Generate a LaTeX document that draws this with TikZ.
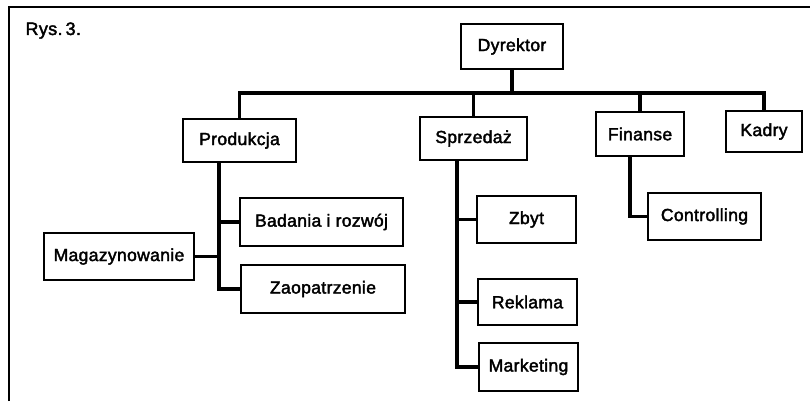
\documentclass[tikz,border=0pt]{standalone}
\usepackage{fontspec}
\setmainfont{Liberation Sans}
\newfontfamily\chartfont{Liberation Sans}[FakeBold=2.2, LetterSpace=2]
\begin{document}
\begin{tikzpicture}[x=1pt,y=-1pt,
  unit/.style={draw, line width=1.8pt, inner sep=0pt, font=\chartfont\fontsize{17.5}{20}\selectfont},
  conn/.style={line width=3.4pt, line cap=rect, line join=miter},
  frameline/.style={line width=1.4pt}]
\useasboundingbox (0,0) rectangle (810,401);

% partial frame (top and left edges)
\draw[frameline] (9,401) -- (9,7) -- (810,7);
\node[anchor=base west, font=\chartfont\fontsize{18}{20}\selectfont] (caption) at (22,35) {Rys.\,3.};

% units
\node[unit, minimum width=102pt, minimum height=45pt] (dyr) at (512,46.5) {Dyrektor};
\node[unit, minimum width=113pt, minimum height=43pt] (prod) at (239.5,140.5) {Produkcja};
\node[unit, minimum width=107pt, minimum height=43pt] (spr) at (473.5,138.5) {Sprzedaż};
\node[unit, minimum width=88pt, minimum height=44pt] (fin) at (640,134) {Finanse};
\node[unit, minimum width=76pt, minimum height=41pt] (kad) at (764,131.5) {Kadry};
\node[unit, minimum width=163pt, minimum height=48pt] (bad) at (321.5,222) {Badania i rozwój};
\node[unit, minimum width=150pt, minimum height=47pt] (mag) at (119,256.5) {Magazynowanie};
\node[unit, minimum width=164pt, minimum height=48pt] (zao) at (323,289) {Zaopatrzenie};
\node[unit, minimum width=99pt, minimum height=47pt] (zby) at (526.5,219.5) {Zbyt};
\node[unit, minimum width=99pt, minimum height=46pt] (rek) at (527.5,302) {Reklama};
\node[unit, minimum width=99pt, minimum height=48pt] (mar) at (528.5,367) {Marketing};
\node[unit, minimum width=113pt, minimum height=47pt] (con) at (704.5,216.5) {Controlling};

% top-level bus
\coordinate (bus) at (0,93);
\draw[conn] (dyr.south) -- (dyr.south |- bus);
\draw[conn] (prod.north) -- (prod.north |- bus) -| (kad.north);
\draw[conn] (spr.north) -- (spr.north |- bus);
\draw[conn] (fin.north) -- (fin.north |- bus);

% Produkcja branch
\coordinate (pstem) at ([xshift=-20.5pt]prod.south);
\draw[conn] (pstem) |- (zao.west);
\draw[conn] (bad.west) -- (bad.west -| pstem);
\draw[conn] (mag.east) -- (mag.east -| pstem);

% Sprzedaz branch
\coordinate (sstem) at ([xshift=-16.5pt]spr.south);
\draw[conn] (sstem) |- (mar.west);
\draw[conn] (zby.west) -- (zby.west -| sstem);
\draw[conn] (rek.west) -- (rek.west -| sstem);

% Finanse branch
\coordinate (fstem) at ([xshift=-10pt]fin.south);
\draw[conn] (fstem) |- (con.west);
\end{tikzpicture}
\end{document}
